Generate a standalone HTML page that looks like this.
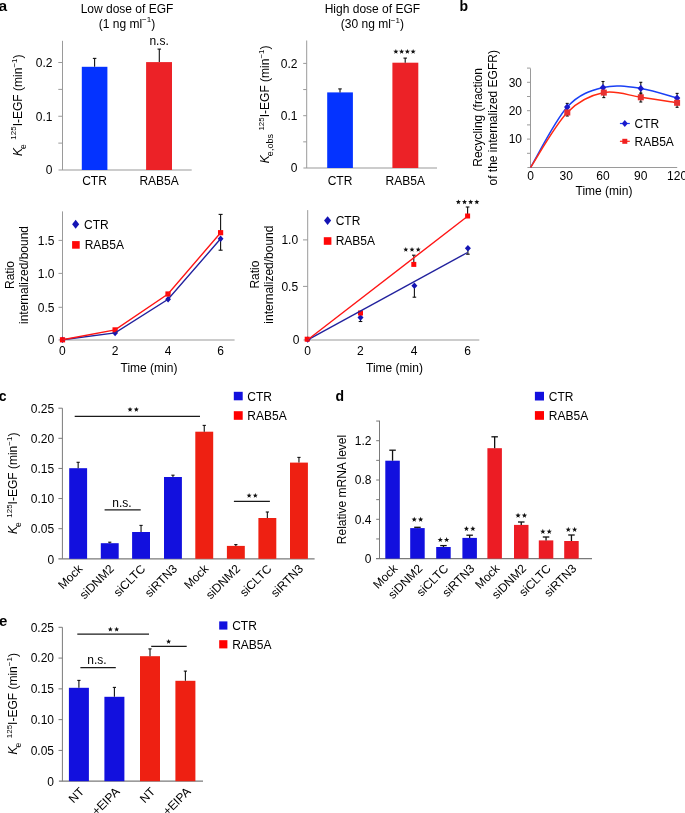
<!DOCTYPE html>
<html><head><meta charset="utf-8"><title>Figure</title>
<style>html,body{margin:0;padding:0;background:#fff;width:685px;height:813px;overflow:hidden}
svg{display:block;will-change:transform} text{font-family:"Liberation Sans", sans-serif}</style></head>
<body><svg width="685" height="813" viewBox="0 0 685 813" font-family="Liberation Sans, sans-serif" fill="#000">
<text x="-1.5" y="10.8" text-anchor="start" font-size="15.5" font-weight="bold">a</text>
<text x="459.5" y="10.8" text-anchor="start" font-size="14" font-weight="bold">b</text>
<text x="-1.2" y="400.8" text-anchor="start" font-size="14" font-weight="bold">c</text>
<text x="335.5" y="400.5" text-anchor="start" font-size="14" font-weight="bold">d</text>
<text x="-1" y="626.4" text-anchor="start" font-size="15" font-weight="bold">e</text>
<line x1="62.5" y1="40.8" x2="62.5" y2="170" stroke="#9a9a9a" stroke-width="1"/>
<line x1="58.5" y1="170" x2="191.7" y2="170" stroke="#9a9a9a" stroke-width="1.2"/>
<text x="52.5" y="174.3" text-anchor="end" font-size="12">0</text>
<line x1="58.3" y1="143.12" x2="62.5" y2="143.12" stroke="#9a9a9a" stroke-width="1"/>
<line x1="58.3" y1="116.25" x2="62.5" y2="116.25" stroke="#9a9a9a" stroke-width="1"/>
<text x="52.5" y="120.55" text-anchor="end" font-size="12">0.1</text>
<line x1="58.3" y1="89.38" x2="62.5" y2="89.38" stroke="#9a9a9a" stroke-width="1"/>
<line x1="58.3" y1="62.5" x2="62.5" y2="62.5" stroke="#9a9a9a" stroke-width="1"/>
<text x="52.5" y="66.8" text-anchor="end" font-size="12">0.2</text>
<rect x="81.8" y="66.8" width="25.6" height="103.2" fill="#0433ff"/>
<line x1="94.6" y1="66.8" x2="94.6" y2="58.4" stroke="#111" stroke-width="1.1"/>
<line x1="92.85" y1="58.4" x2="96.35" y2="58.4" stroke="#111" stroke-width="1.1"/>
<rect x="146.1" y="62.1" width="25.9" height="107.9" fill="#ec2227"/>
<line x1="159.3" y1="62.1" x2="159.3" y2="49.1" stroke="#111" stroke-width="1.1"/>
<line x1="157.55" y1="49.1" x2="161.05" y2="49.1" stroke="#111" stroke-width="1.1"/>
<text x="159.1" y="44.8" text-anchor="middle" font-size="12">n.s.</text>
<text x="94.5" y="185" text-anchor="middle" font-size="12">CTR</text>
<text x="159.1" y="185" text-anchor="middle" font-size="12">RAB5A</text>
<text x="127" y="12.6" text-anchor="middle" font-size="12">Low dose of EGF</text>
<text x="127" y="27.6" text-anchor="middle" font-size="12">(1 ng ml<tspan dy="-5.2" font-size="8">−1</tspan><tspan dy="5.2">)</tspan></text>
<text transform="translate(21.6,105.2) rotate(-90)" text-anchor="middle" font-size="12"><tspan font-style="italic">K</tspan><tspan dy="4.3" font-size="8.5" dx="-1">e</tspan><tspan dy="-9.7" font-size="8" dx="4.5">125</tspan><tspan dy="5.4">I-EGF (min</tspan><tspan dy="-5" font-size="8">−1</tspan><tspan dy="5">)</tspan></text>
<line x1="306.7" y1="40.5" x2="306.7" y2="168" stroke="#9a9a9a" stroke-width="1"/>
<line x1="303.4" y1="168" x2="437" y2="168" stroke="#9a9a9a" stroke-width="1.2"/>
<text x="297.5" y="172.3" text-anchor="end" font-size="12">0</text>
<line x1="303.2" y1="141.85" x2="306.7" y2="141.85" stroke="#9a9a9a" stroke-width="1"/>
<line x1="303.2" y1="115.7" x2="306.7" y2="115.7" stroke="#9a9a9a" stroke-width="1"/>
<text x="297.5" y="120" text-anchor="end" font-size="12">0.1</text>
<line x1="303.2" y1="89.55" x2="306.7" y2="89.55" stroke="#9a9a9a" stroke-width="1"/>
<line x1="303.2" y1="63.4" x2="306.7" y2="63.4" stroke="#9a9a9a" stroke-width="1"/>
<text x="297.5" y="67.7" text-anchor="end" font-size="12">0.2</text>
<rect x="327.2" y="92.4" width="25.7" height="75.6" fill="#0433ff"/>
<line x1="340" y1="92.4" x2="340" y2="88.9" stroke="#111" stroke-width="1.1"/>
<line x1="338.25" y1="88.9" x2="341.75" y2="88.9" stroke="#111" stroke-width="1.1"/>
<rect x="392.4" y="62.7" width="25.9" height="105.3" fill="#ec2227"/>
<line x1="405.2" y1="62.7" x2="405.2" y2="58.1" stroke="#111" stroke-width="1.1"/>
<line x1="403.45" y1="58.1" x2="406.95" y2="58.1" stroke="#111" stroke-width="1.1"/>
<polygon points="395.88,48.9 396.55,50.72 398.49,50.8 396.97,52.01 397.49,53.87 395.88,52.8 394.26,53.87 394.78,52.01 393.26,50.8 395.2,50.72" fill="#111"/>
<polygon points="401.62,48.9 402.3,50.72 404.24,50.8 402.72,52.01 403.24,53.87 401.62,52.8 400.01,53.87 400.53,52.01 399.01,50.8 400.95,50.72" fill="#111"/>
<polygon points="407.38,48.9 408.05,50.72 409.99,50.8 408.47,52.01 408.99,53.87 407.38,52.8 405.76,53.87 406.28,52.01 404.76,50.8 406.7,50.72" fill="#111"/>
<polygon points="413.12,48.9 413.8,50.72 415.74,50.8 414.22,52.01 414.74,53.87 413.12,52.8 411.51,53.87 412.03,52.01 410.51,50.8 412.45,50.72" fill="#111"/>
<text x="340" y="184.6" text-anchor="middle" font-size="12">CTR</text>
<text x="405.3" y="184.6" text-anchor="middle" font-size="12">RAB5A</text>
<text x="372.4" y="12.9" text-anchor="middle" font-size="12">High dose of EGF</text>
<text x="372.4" y="28" text-anchor="middle" font-size="12">(30 ng ml<tspan dy="-5.2" font-size="8">−1</tspan><tspan dy="5.2">)</tspan></text>
<text transform="translate(269.3,104.3) rotate(-90)" text-anchor="middle" font-size="12"><tspan font-style="italic">K</tspan><tspan dy="3.8" font-size="9" dx="-1">e,obs</tspan><tspan dy="-9.2" font-size="8" dx="3.5">125</tspan><tspan dy="5.4">I-EGF (min</tspan><tspan dy="-5" font-size="8">−1</tspan><tspan dy="5">)</tspan></text>
<line x1="530.5" y1="68.4" x2="530.5" y2="167.5" stroke="#9a9a9a" stroke-width="1"/>
<line x1="527.4" y1="167.5" x2="677.2" y2="167.5" stroke="#9a9a9a" stroke-width="1.2"/>
<line x1="527" y1="153.3" x2="530.5" y2="153.3" stroke="#9a9a9a" stroke-width="1"/>
<line x1="527" y1="139.1" x2="530.5" y2="139.1" stroke="#9a9a9a" stroke-width="1"/>
<text x="522" y="143.4" text-anchor="end" font-size="12">10</text>
<line x1="527" y1="124.9" x2="530.5" y2="124.9" stroke="#9a9a9a" stroke-width="1"/>
<line x1="527" y1="110.7" x2="530.5" y2="110.7" stroke="#9a9a9a" stroke-width="1"/>
<text x="522" y="115" text-anchor="end" font-size="12">20</text>
<line x1="527" y1="96.5" x2="530.5" y2="96.5" stroke="#9a9a9a" stroke-width="1"/>
<line x1="527" y1="82.3" x2="530.5" y2="82.3" stroke="#9a9a9a" stroke-width="1"/>
<text x="522" y="86.6" text-anchor="end" font-size="12">30</text>
<line x1="527" y1="68.1" x2="530.5" y2="68.1" stroke="#9a9a9a" stroke-width="1"/>
<text x="530.5" y="180.2" text-anchor="middle" font-size="12">0</text>
<text x="566.3" y="180.2" text-anchor="middle" font-size="12">30</text>
<text x="603" y="180.2" text-anchor="middle" font-size="12">60</text>
<text x="640.8" y="180.2" text-anchor="middle" font-size="12">90</text>
<text x="677.1" y="180.2" text-anchor="middle" font-size="12">120</text>
<text x="604" y="194.5" text-anchor="middle" font-size="12">Time (min)</text>
<text transform="translate(482.1,117.4) rotate(-90)" text-anchor="middle" font-size="12">Recycling (fraction</text>
<text transform="translate(496.8,117.8) rotate(-90)" text-anchor="middle" font-size="12">of the internalized EGFR)</text>
<path d="M530.5 167.5 C536.62 157.43 555.12 120.42 567.2 107.1 C579.28 93.78 590.73 90.72 603 87.6 C615.27 84.48 628.45 86.65 640.8 88.4 C653.15 90.15 671.05 96.48 677.1 98.1" fill="none" stroke="#1a40f5" stroke-width="1.5"/>
<path d="M530.5 167.5 C536.63 158.33 555.08 124.98 567.3 112.5 C579.52 100.02 591.55 95.13 603.8 92.6 C616.05 90.07 628.58 95.60 640.8 97.3 C653.02 99.00 671.05 101.88 677.1 102.8" fill="none" stroke="#ff2a12" stroke-width="1.5"/>
<line x1="567.2" y1="103.4" x2="567.2" y2="110.7" stroke="#111" stroke-width="1.1"/>
<line x1="565.7" y1="103.4" x2="568.7" y2="103.4" stroke="#111" stroke-width="1.1"/>
<line x1="565.7" y1="110.7" x2="568.7" y2="110.7" stroke="#111" stroke-width="1.1"/>
<line x1="603" y1="81.5" x2="603" y2="94" stroke="#111" stroke-width="1.1"/>
<line x1="601.5" y1="81.5" x2="604.5" y2="81.5" stroke="#111" stroke-width="1.1"/>
<line x1="601.5" y1="94" x2="604.5" y2="94" stroke="#111" stroke-width="1.1"/>
<line x1="640.8" y1="82.3" x2="640.8" y2="94" stroke="#111" stroke-width="1.1"/>
<line x1="639.3" y1="82.3" x2="642.3" y2="82.3" stroke="#111" stroke-width="1.1"/>
<line x1="639.3" y1="94" x2="642.3" y2="94" stroke="#111" stroke-width="1.1"/>
<line x1="677.1" y1="93.4" x2="677.1" y2="102" stroke="#111" stroke-width="1.1"/>
<line x1="675.6" y1="93.4" x2="678.6" y2="93.4" stroke="#111" stroke-width="1.1"/>
<line x1="675.6" y1="102" x2="678.6" y2="102" stroke="#111" stroke-width="1.1"/>
<line x1="567.3" y1="108" x2="567.3" y2="116" stroke="#111" stroke-width="1.1"/>
<line x1="565.8" y1="108" x2="568.8" y2="108" stroke="#111" stroke-width="1.1"/>
<line x1="565.8" y1="116" x2="568.8" y2="116" stroke="#111" stroke-width="1.1"/>
<line x1="603.8" y1="88" x2="603.8" y2="97.6" stroke="#111" stroke-width="1.1"/>
<line x1="602.3" y1="88" x2="605.3" y2="88" stroke="#111" stroke-width="1.1"/>
<line x1="602.3" y1="97.6" x2="605.3" y2="97.6" stroke="#111" stroke-width="1.1"/>
<line x1="640.8" y1="93" x2="640.8" y2="102" stroke="#111" stroke-width="1.1"/>
<line x1="639.3" y1="93" x2="642.3" y2="93" stroke="#111" stroke-width="1.1"/>
<line x1="639.3" y1="102" x2="642.3" y2="102" stroke="#111" stroke-width="1.1"/>
<line x1="677.1" y1="98" x2="677.1" y2="107.3" stroke="#111" stroke-width="1.1"/>
<line x1="675.6" y1="98" x2="678.6" y2="98" stroke="#111" stroke-width="1.1"/>
<line x1="675.6" y1="107.3" x2="678.6" y2="107.3" stroke="#111" stroke-width="1.1"/>
<path d="M567.2 103.5L570.4 107.1L567.2 110.7L564 107.1Z" fill="#1a1acc"/>
<path d="M603 84L606.2 87.6L603 91.2L599.8 87.6Z" fill="#1a1acc"/>
<path d="M640.8 84.8L644 88.4L640.8 92L637.6 88.4Z" fill="#1a1acc"/>
<path d="M677.1 94.5L680.3 98.1L677.1 101.7L673.9 98.1Z" fill="#1a1acc"/>
<rect x="564.3" y="109.5" width="6" height="6" fill="#e83030"/>
<rect x="600.8" y="89.6" width="6" height="6" fill="#e83030"/>
<rect x="637.8" y="94.3" width="6" height="6" fill="#e83030"/>
<rect x="674.1" y="99.8" width="6" height="6" fill="#e83030"/>
<line x1="619.9" y1="123.5" x2="629.8" y2="123.5" stroke="#1a40f5" stroke-width="1.2"/>
<path d="M624.8 120L627.8 123.5L624.8 127L621.8 123.5Z" fill="#1a1acc"/>
<text x="634.5" y="128.1" text-anchor="start" font-size="12">CTR</text>
<line x1="619.9" y1="141.3" x2="629.8" y2="141.3" stroke="#ff2a12" stroke-width="1.2"/>
<rect x="622.3" y="138.8" width="5" height="5" fill="#f02020"/>
<text x="634.5" y="145.8" text-anchor="start" font-size="12">RAB5A</text>
<line x1="62.5" y1="211.4" x2="62.5" y2="340" stroke="#9a9a9a" stroke-width="1"/>
<line x1="58.5" y1="340" x2="234.6" y2="340" stroke="#9a9a9a" stroke-width="1.2"/>
<text x="54.5" y="343.9" text-anchor="end" font-size="12">0</text>
<line x1="58.5" y1="307.3" x2="62.5" y2="307.3" stroke="#9a9a9a" stroke-width="1"/>
<text x="54.5" y="311.6" text-anchor="end" font-size="12">0.5</text>
<line x1="58.5" y1="273.4" x2="62.5" y2="273.4" stroke="#9a9a9a" stroke-width="1"/>
<text x="54.5" y="277.7" text-anchor="end" font-size="12">1.0</text>
<line x1="58.5" y1="240.4" x2="62.5" y2="240.4" stroke="#9a9a9a" stroke-width="1"/>
<text x="54.5" y="244.7" text-anchor="end" font-size="12">1.5</text>
<text x="62.3" y="355.3" text-anchor="middle" font-size="12">0</text>
<text x="115.1" y="355.3" text-anchor="middle" font-size="12">2</text>
<text x="168" y="355.3" text-anchor="middle" font-size="12">4</text>
<text x="220.6" y="355.3" text-anchor="middle" font-size="12">6</text>
<text x="149" y="371.5" text-anchor="middle" font-size="12">Time (min)</text>
<text transform="translate(14.3,275) rotate(-90)" text-anchor="middle" font-size="12">Ratio</text>
<text transform="translate(28,275) rotate(-90)" text-anchor="middle" font-size="12">internalized/bound</text>
<line x1="220.6" y1="232.7" x2="220.6" y2="214.4" stroke="#111" stroke-width="1.1"/>
<line x1="218.6" y1="214.4" x2="222.6" y2="214.4" stroke="#111" stroke-width="1.1"/>
<line x1="220.6" y1="238.8" x2="220.6" y2="250.2" stroke="#111" stroke-width="1.1"/>
<line x1="218.6" y1="250.2" x2="222.6" y2="250.2" stroke="#111" stroke-width="1.1"/>
<path d="M62.5 336.5L65.4 339.8L62.5 343.1L59.6 339.8Z" fill="#1414b4"/>
<path d="M115.1 329.6L118 332.9L115.1 336.2L112.2 332.9Z" fill="#1414b4"/>
<path d="M168.1 296L171 299.3L168.1 302.6L165.2 299.3Z" fill="#1414b4"/>
<path d="M220.6 235.5L223.5 238.8L220.6 242.1L217.7 238.8Z" fill="#1414b4"/>
<rect x="59.9" y="337.2" width="5.2" height="5.2" fill="#ff0808"/>
<rect x="112.5" y="327.3" width="5.2" height="5.2" fill="#ff0808"/>
<rect x="165.4" y="291.4" width="5.2" height="5.2" fill="#ff0808"/>
<rect x="218" y="230.1" width="5.2" height="5.2" fill="#ff0808"/>
<polyline points="62.5,339.8 115.1,332.9 168.1,299.3 220.6,238.8" fill="none" stroke="#22229e" stroke-width="1.4"/>
<polyline points="62.5,339.8 115.1,329.9 168,294 220.6,232.7" fill="none" stroke="#ff1414" stroke-width="1.4"/>
<path d="M75.65 219.75L79.2 224.25L75.65 228.75L72.1 224.25Z" fill="#1414b4"/>
<text x="84.1" y="228.6" text-anchor="start" font-size="12">CTR</text>
<rect x="72.1" y="241.1" width="7.6" height="7.6" fill="#ff0808"/>
<text x="84.7" y="249.3" text-anchor="start" font-size="12">RAB5A</text>
<line x1="307.7" y1="210.1" x2="307.7" y2="340" stroke="#9a9a9a" stroke-width="1"/>
<line x1="303.5" y1="340" x2="479.3" y2="340" stroke="#9a9a9a" stroke-width="1.2"/>
<text x="299.5" y="343.6" text-anchor="end" font-size="12">0</text>
<line x1="303" y1="286.4" x2="307.7" y2="286.4" stroke="#9a9a9a" stroke-width="1"/>
<text x="298.1" y="290.7" text-anchor="end" font-size="12">0.5</text>
<line x1="303" y1="239.9" x2="307.7" y2="239.9" stroke="#9a9a9a" stroke-width="1"/>
<text x="298.1" y="244.2" text-anchor="end" font-size="12">1.0</text>
<text x="307.5" y="355.3" text-anchor="middle" font-size="12">0</text>
<text x="360.4" y="355.3" text-anchor="middle" font-size="12">2</text>
<text x="414" y="355.3" text-anchor="middle" font-size="12">4</text>
<text x="467.7" y="355.3" text-anchor="middle" font-size="12">6</text>
<text x="394.5" y="371.5" text-anchor="middle" font-size="12">Time (min)</text>
<text transform="translate(259,274.6) rotate(-90)" text-anchor="middle" font-size="12">Ratio</text>
<text transform="translate(272.8,274.6) rotate(-90)" text-anchor="middle" font-size="12">internalized/bound</text>
<line x1="360.5" y1="317.5" x2="360.5" y2="321.5" stroke="#111" stroke-width="1.1"/>
<line x1="358.7" y1="321.5" x2="362.3" y2="321.5" stroke="#111" stroke-width="1.1"/>
<line x1="414.4" y1="285.8" x2="414.4" y2="297.2" stroke="#111" stroke-width="1.1"/>
<line x1="412.6" y1="297.2" x2="416.2" y2="297.2" stroke="#111" stroke-width="1.1"/>
<line x1="467.9" y1="248.3" x2="467.9" y2="254.2" stroke="#111" stroke-width="1.1"/>
<line x1="466.1" y1="254.2" x2="469.7" y2="254.2" stroke="#111" stroke-width="1.1"/>
<line x1="413.8" y1="264.4" x2="413.8" y2="255.2" stroke="#111" stroke-width="1.1"/>
<line x1="412" y1="255.2" x2="415.6" y2="255.2" stroke="#111" stroke-width="1.1"/>
<line x1="467.6" y1="216" x2="467.6" y2="207" stroke="#111" stroke-width="1.1"/>
<line x1="465.8" y1="207" x2="469.4" y2="207" stroke="#111" stroke-width="1.1"/>
<path d="M307.7 336.4L310.7 339.6L307.7 342.8L304.7 339.6Z" fill="#1414b4"/>
<path d="M360.5 314.3L363.5 317.5L360.5 320.7L357.5 317.5Z" fill="#1414b4"/>
<path d="M414.4 282.6L417.4 285.8L414.4 289L411.4 285.8Z" fill="#1414b4"/>
<path d="M467.9 245.1L470.9 248.3L467.9 251.5L464.9 248.3Z" fill="#1414b4"/>
<rect x="304.7" y="336.7" width="5" height="5" fill="#ff0808"/>
<rect x="358" y="310.5" width="5" height="5" fill="#ff0808"/>
<rect x="411.3" y="261.9" width="5" height="5" fill="#ff0808"/>
<rect x="465.1" y="213.5" width="5" height="5" fill="#ff0808"/>
<line x1="307.7" y1="339.8" x2="467.5" y2="252.5" stroke="#22229e" stroke-width="1.4"/>
<line x1="307.7" y1="339.8" x2="466" y2="217.5" stroke="#ff1414" stroke-width="1.4"/>
<polygon points="405.8,247.05 406.48,248.72 408.27,248.85 406.89,250.01 407.33,251.75 405.8,250.8 404.27,251.75 404.71,250.01 403.33,248.85 405.12,248.72" fill="#111"/>
<polygon points="412,247.05 412.68,248.72 414.47,248.85 413.09,250.01 413.53,251.75 412,250.8 410.47,251.75 410.91,250.01 409.53,248.85 411.32,248.72" fill="#111"/>
<polygon points="418.2,247.05 418.88,248.72 420.67,248.85 419.29,250.01 419.73,251.75 418.2,250.8 416.67,251.75 417.11,250.01 415.73,248.85 417.52,248.72" fill="#111"/>
<polygon points="458.38,199.45 459.05,201.12 460.85,201.25 459.47,202.41 459.9,204.15 458.38,203.2 456.85,204.15 457.28,202.41 455.9,201.25 457.7,201.12" fill="#111"/>
<polygon points="464.52,199.45 465.2,201.12 467,201.25 465.62,202.41 466.05,204.15 464.52,203.2 463,204.15 463.43,202.41 462.05,201.25 463.85,201.12" fill="#111"/>
<polygon points="470.68,199.45 471.35,201.12 473.15,201.25 471.77,202.41 472.2,204.15 470.68,203.2 469.15,204.15 469.58,202.41 468.2,201.25 470,201.12" fill="#111"/>
<polygon points="476.82,199.45 477.5,201.12 479.3,201.25 477.92,202.41 478.35,204.15 476.82,203.2 475.3,204.15 475.73,202.41 474.35,201.25 476.15,201.12" fill="#111"/>
<path d="M327.6 216.2L331.15 220.6L327.6 225L324.05 220.6Z" fill="#1414b4"/>
<text x="335.7" y="225" text-anchor="start" font-size="12">CTR</text>
<rect x="323.8" y="237.2" width="7.6" height="7.6" fill="#ff0808"/>
<text x="335.7" y="245.2" text-anchor="start" font-size="12">RAB5A</text>
<line x1="62.4" y1="408.2" x2="62.4" y2="558.8" stroke="#7a7a7a" stroke-width="1"/>
<line x1="58.4" y1="558.8" x2="314.6" y2="558.8" stroke="#7a7a7a" stroke-width="1.2"/>
<text x="54.2" y="563.6" text-anchor="end" font-size="12">0</text>
<line x1="58.4" y1="528.68" x2="62.4" y2="528.68" stroke="#7a7a7a" stroke-width="1"/>
<text x="54.2" y="533.48" text-anchor="end" font-size="12">0.05</text>
<line x1="58.4" y1="498.56" x2="62.4" y2="498.56" stroke="#7a7a7a" stroke-width="1"/>
<text x="54.2" y="503.36" text-anchor="end" font-size="12">0.10</text>
<line x1="58.4" y1="468.44" x2="62.4" y2="468.44" stroke="#7a7a7a" stroke-width="1"/>
<text x="54.2" y="473.24" text-anchor="end" font-size="12">0.15</text>
<line x1="58.4" y1="438.32" x2="62.4" y2="438.32" stroke="#7a7a7a" stroke-width="1"/>
<text x="54.2" y="443.12" text-anchor="end" font-size="12">0.20</text>
<line x1="58.4" y1="408.2" x2="62.4" y2="408.2" stroke="#7a7a7a" stroke-width="1"/>
<text x="54.2" y="413" text-anchor="end" font-size="12">0.25</text>
<rect x="69.2" y="468.2" width="17.9" height="90.6" fill="#1210de"/>
<line x1="78.15" y1="468.2" x2="78.15" y2="462.3" stroke="#111" stroke-width="1.1"/>
<line x1="76.55" y1="462.3" x2="79.75" y2="462.3" stroke="#111" stroke-width="1.1"/>
<text transform="translate(83.15,569.5) rotate(-45)" text-anchor="end" font-size="12">Mock</text>
<rect x="100.8" y="543.2" width="17.9" height="15.6" fill="#1210de"/>
<line x1="109.75" y1="543.2" x2="109.75" y2="542.2" stroke="#111" stroke-width="1.1"/>
<line x1="108.15" y1="542.2" x2="111.35" y2="542.2" stroke="#111" stroke-width="1.1"/>
<text transform="translate(114.75,569.5) rotate(-45)" text-anchor="end" font-size="12">siDNM2</text>
<rect x="132.1" y="532" width="17.9" height="26.8" fill="#1210de"/>
<line x1="141.05" y1="532" x2="141.05" y2="525.4" stroke="#111" stroke-width="1.1"/>
<line x1="139.45" y1="525.4" x2="142.65" y2="525.4" stroke="#111" stroke-width="1.1"/>
<text transform="translate(146.05,569.5) rotate(-45)" text-anchor="end" font-size="12">siCLTC</text>
<rect x="164" y="477" width="17.9" height="81.8" fill="#1210de"/>
<line x1="172.95" y1="477" x2="172.95" y2="475.2" stroke="#111" stroke-width="1.1"/>
<line x1="171.35" y1="475.2" x2="174.55" y2="475.2" stroke="#111" stroke-width="1.1"/>
<text transform="translate(177.95,569.5) rotate(-45)" text-anchor="end" font-size="12">siRTN3</text>
<rect x="195.3" y="431.7" width="17.9" height="127.1" fill="#ee2012"/>
<line x1="204.25" y1="431.7" x2="204.25" y2="425.4" stroke="#111" stroke-width="1.1"/>
<line x1="202.65" y1="425.4" x2="205.85" y2="425.4" stroke="#111" stroke-width="1.1"/>
<text transform="translate(209.25,569.5) rotate(-45)" text-anchor="end" font-size="12">Mock</text>
<rect x="226.9" y="545.9" width="17.9" height="12.9" fill="#ee2012"/>
<line x1="235.85" y1="545.9" x2="235.85" y2="544.6" stroke="#111" stroke-width="1.1"/>
<line x1="234.25" y1="544.6" x2="237.45" y2="544.6" stroke="#111" stroke-width="1.1"/>
<text transform="translate(240.85,569.5) rotate(-45)" text-anchor="end" font-size="12">siDNM2</text>
<rect x="258.4" y="518" width="17.9" height="40.8" fill="#ee2012"/>
<line x1="267.35" y1="518" x2="267.35" y2="512" stroke="#111" stroke-width="1.1"/>
<line x1="265.75" y1="512" x2="268.95" y2="512" stroke="#111" stroke-width="1.1"/>
<text transform="translate(272.35,569.5) rotate(-45)" text-anchor="end" font-size="12">siCLTC</text>
<rect x="290" y="462.6" width="17.9" height="96.2" fill="#ee2012"/>
<line x1="298.95" y1="462.6" x2="298.95" y2="457.4" stroke="#111" stroke-width="1.1"/>
<line x1="297.35" y1="457.4" x2="300.55" y2="457.4" stroke="#111" stroke-width="1.1"/>
<text transform="translate(303.95,569.5) rotate(-45)" text-anchor="end" font-size="12">siRTN3</text>
<line x1="74.7" y1="416.4" x2="200" y2="416.4" stroke="#1a1a1a" stroke-width="1.3"/>
<polygon points="130.05,406.95 130.73,408.62 132.52,408.75 131.14,409.91 131.58,411.65 130.05,410.7 128.52,411.65 128.96,409.91 127.58,408.75 129.37,408.62" fill="#111"/>
<polygon points="136.35,406.95 137.03,408.62 138.82,408.75 137.44,409.91 137.88,411.65 136.35,410.7 134.82,411.65 135.26,409.91 133.88,408.75 135.67,408.62" fill="#111"/>
<line x1="104.6" y1="509.8" x2="140.7" y2="509.8" stroke="#1a1a1a" stroke-width="1.3"/>
<text x="122" y="507.4" text-anchor="middle" font-size="12">n.s.</text>
<line x1="233.9" y1="501.4" x2="269.9" y2="501.4" stroke="#1a1a1a" stroke-width="1.2"/>
<polygon points="249.1,493.05 249.78,494.72 251.57,494.85 250.19,496.01 250.63,497.75 249.1,496.8 247.57,497.75 248.01,496.01 246.63,494.85 248.42,494.72" fill="#111"/>
<polygon points="255.3,493.05 255.98,494.72 257.77,494.85 256.39,496.01 256.83,497.75 255.3,496.8 253.77,497.75 254.21,496.01 252.83,494.85 254.62,494.72" fill="#111"/>
<text transform="translate(17,483.3) rotate(-90)" text-anchor="middle" font-size="12"><tspan font-style="italic">K</tspan><tspan dy="4.3" font-size="8.5" dx="-1">e</tspan><tspan dy="-9.7" font-size="8" dx="4.5">125</tspan><tspan dy="5.4">I-EGF (min</tspan><tspan dy="-5" font-size="8">−1</tspan><tspan dy="5">)</tspan></text>
<rect x="233.8" y="391.8" width="8.9" height="8.5" fill="#1210de"/>
<text x="247.3" y="400.5" text-anchor="start" font-size="12">CTR</text>
<rect x="233.8" y="411.2" width="8.9" height="8.6" fill="#ff0000"/>
<text x="247.3" y="420.1" text-anchor="start" font-size="12">RAB5A</text>
<line x1="379.5" y1="420.7" x2="379.5" y2="558.6" stroke="#7a7a7a" stroke-width="1"/>
<line x1="376" y1="558.6" x2="592" y2="558.6" stroke="#7a7a7a" stroke-width="1.2"/>
<text x="371.5" y="562.9" text-anchor="end" font-size="12">0</text>
<line x1="376.2" y1="538.95" x2="379.5" y2="538.95" stroke="#7a7a7a" stroke-width="1"/>
<line x1="376.2" y1="519.3" x2="379.5" y2="519.3" stroke="#7a7a7a" stroke-width="1"/>
<text x="371.5" y="523.6" text-anchor="end" font-size="12">0.4</text>
<line x1="376.2" y1="499.65" x2="379.5" y2="499.65" stroke="#7a7a7a" stroke-width="1"/>
<line x1="376.2" y1="480" x2="379.5" y2="480" stroke="#7a7a7a" stroke-width="1"/>
<text x="371.5" y="484.3" text-anchor="end" font-size="12">0.8</text>
<line x1="376.2" y1="460.35" x2="379.5" y2="460.35" stroke="#7a7a7a" stroke-width="1"/>
<line x1="376.2" y1="440.7" x2="379.5" y2="440.7" stroke="#7a7a7a" stroke-width="1"/>
<text x="371.5" y="445" text-anchor="end" font-size="12">1.2</text>
<line x1="376.2" y1="421.05" x2="379.5" y2="421.05" stroke="#7a7a7a" stroke-width="1"/>
<rect x="385.3" y="460.7" width="14.5" height="97.9" fill="#1210de"/>
<line x1="392.55" y1="460.7" x2="392.55" y2="450.2" stroke="#111" stroke-width="1.3"/>
<line x1="389.3" y1="450.2" x2="395.8" y2="450.2" stroke="#111" stroke-width="1.3"/>
<text transform="translate(398.25,569.3) rotate(-45)" text-anchor="end" font-size="12">Mock</text>
<rect x="410.2" y="528.1" width="14.5" height="30.5" fill="#1210de"/>
<line x1="417.45" y1="528.1" x2="417.45" y2="527.3" stroke="#111" stroke-width="1.3"/>
<line x1="414.2" y1="527.3" x2="420.7" y2="527.3" stroke="#111" stroke-width="1.3"/>
<polygon points="414.25,516.75 414.93,518.62 416.91,518.68 415.34,519.91 415.9,521.82 414.25,520.7 412.6,521.82 413.16,519.91 411.59,518.68 413.57,518.62" fill="#111"/>
<polygon points="420.65,516.75 421.33,518.62 423.31,518.68 421.74,519.91 422.3,521.82 420.65,520.7 419,521.82 419.56,519.91 417.99,518.68 419.97,518.62" fill="#111"/>
<text transform="translate(423.15,569.3) rotate(-45)" text-anchor="end" font-size="12">siDNM2</text>
<rect x="436.2" y="547" width="14.5" height="11.6" fill="#1210de"/>
<line x1="443.45" y1="547" x2="443.45" y2="545.6" stroke="#111" stroke-width="1.3"/>
<line x1="440.2" y1="545.6" x2="446.7" y2="545.6" stroke="#111" stroke-width="1.3"/>
<polygon points="440.25,537.05 440.93,538.92 442.91,538.98 441.34,540.21 441.9,542.12 440.25,541 438.6,542.12 439.16,540.21 437.59,538.98 439.57,538.92" fill="#111"/>
<polygon points="446.65,537.05 447.33,538.92 449.31,538.98 447.74,540.21 448.3,542.12 446.65,541 445,542.12 445.56,540.21 443.99,538.98 445.97,538.92" fill="#111"/>
<text transform="translate(449.15,569.3) rotate(-45)" text-anchor="end" font-size="12">siCLTC</text>
<rect x="462.4" y="537.9" width="14.5" height="20.7" fill="#1210de"/>
<line x1="469.65" y1="537.9" x2="469.65" y2="535.2" stroke="#111" stroke-width="1.3"/>
<line x1="466.4" y1="535.2" x2="472.9" y2="535.2" stroke="#111" stroke-width="1.3"/>
<polygon points="466.45,525.95 467.13,527.82 469.11,527.88 467.54,529.11 468.1,531.02 466.45,529.9 464.8,531.02 465.36,529.11 463.79,527.88 465.77,527.82" fill="#111"/>
<polygon points="472.85,525.95 473.53,527.82 475.51,527.88 473.94,529.11 474.5,531.02 472.85,529.9 471.2,531.02 471.76,529.11 470.19,527.88 472.17,527.82" fill="#111"/>
<text transform="translate(475.35,569.3) rotate(-45)" text-anchor="end" font-size="12">siRTN3</text>
<rect x="487.4" y="448.2" width="14.5" height="110.4" fill="#ec1c24"/>
<line x1="494.65" y1="448.2" x2="494.65" y2="436.8" stroke="#111" stroke-width="1.3"/>
<line x1="491.4" y1="436.8" x2="497.9" y2="436.8" stroke="#111" stroke-width="1.3"/>
<text transform="translate(500.35,569.3) rotate(-45)" text-anchor="end" font-size="12">Mock</text>
<rect x="514" y="524.9" width="14.5" height="33.7" fill="#ec1c24"/>
<line x1="521.25" y1="524.9" x2="521.25" y2="522" stroke="#111" stroke-width="1.3"/>
<line x1="518" y1="522" x2="524.5" y2="522" stroke="#111" stroke-width="1.3"/>
<polygon points="518.05,512.75 518.73,514.62 520.71,514.68 519.14,515.91 519.7,517.82 518.05,516.7 516.4,517.82 516.96,515.91 515.39,514.68 517.37,514.62" fill="#111"/>
<polygon points="524.45,512.75 525.13,514.62 527.11,514.68 525.54,515.91 526.1,517.82 524.45,516.7 522.8,517.82 523.36,515.91 521.79,514.68 523.77,514.62" fill="#111"/>
<text transform="translate(526.95,569.3) rotate(-45)" text-anchor="end" font-size="12">siDNM2</text>
<rect x="538.8" y="540.4" width="14.5" height="18.2" fill="#ec1c24"/>
<line x1="546.05" y1="540.4" x2="546.05" y2="537" stroke="#111" stroke-width="1.3"/>
<line x1="542.8" y1="537" x2="549.3" y2="537" stroke="#111" stroke-width="1.3"/>
<polygon points="542.85,528.85 543.53,530.72 545.51,530.78 543.94,532.01 544.5,533.92 542.85,532.8 541.2,533.92 541.76,532.01 540.19,530.78 542.17,530.72" fill="#111"/>
<polygon points="549.25,528.85 549.93,530.72 551.91,530.78 550.34,532.01 550.9,533.92 549.25,532.8 547.6,533.92 548.16,532.01 546.59,530.78 548.57,530.72" fill="#111"/>
<text transform="translate(551.75,569.3) rotate(-45)" text-anchor="end" font-size="12">siCLTC</text>
<rect x="564.2" y="541" width="14.5" height="17.6" fill="#ec1c24"/>
<line x1="571.45" y1="541" x2="571.45" y2="535" stroke="#111" stroke-width="1.3"/>
<line x1="568.2" y1="535" x2="574.7" y2="535" stroke="#111" stroke-width="1.3"/>
<polygon points="568.25,526.85 568.93,528.72 570.91,528.78 569.34,530.01 569.9,531.92 568.25,530.8 566.6,531.92 567.16,530.01 565.59,528.78 567.57,528.72" fill="#111"/>
<polygon points="574.65,526.85 575.33,528.72 577.31,528.78 575.74,530.01 576.3,531.92 574.65,530.8 573,531.92 573.56,530.01 571.99,528.78 573.97,528.72" fill="#111"/>
<text transform="translate(577.15,569.3) rotate(-45)" text-anchor="end" font-size="12">siRTN3</text>
<text transform="translate(345.9,489.5) rotate(-90)" text-anchor="middle" font-size="12">Relative mRNA level</text>
<rect x="534.9" y="391.8" width="9.1" height="8.7" fill="#1210de"/>
<text x="548.8" y="400.5" text-anchor="start" font-size="12">CTR</text>
<rect x="534.9" y="411.1" width="9.1" height="8.7" fill="#ff0000"/>
<text x="548.8" y="420.1" text-anchor="start" font-size="12">RAB5A</text>
<line x1="62.4" y1="627.3" x2="62.4" y2="781.2" stroke="#7a7a7a" stroke-width="1"/>
<line x1="58.9" y1="781.2" x2="203" y2="781.2" stroke="#7a7a7a" stroke-width="1.2"/>
<text x="54" y="785.5" text-anchor="end" font-size="12">0</text>
<line x1="58.5" y1="750.42" x2="62.4" y2="750.42" stroke="#7a7a7a" stroke-width="1"/>
<text x="54" y="754.72" text-anchor="end" font-size="12">0.05</text>
<line x1="58.5" y1="719.64" x2="62.4" y2="719.64" stroke="#7a7a7a" stroke-width="1"/>
<text x="54" y="723.94" text-anchor="end" font-size="12">0.10</text>
<line x1="58.5" y1="688.86" x2="62.4" y2="688.86" stroke="#7a7a7a" stroke-width="1"/>
<text x="54" y="693.16" text-anchor="end" font-size="12">0.15</text>
<line x1="58.5" y1="658.08" x2="62.4" y2="658.08" stroke="#7a7a7a" stroke-width="1"/>
<text x="54" y="662.38" text-anchor="end" font-size="12">0.20</text>
<line x1="58.5" y1="627.3" x2="62.4" y2="627.3" stroke="#7a7a7a" stroke-width="1"/>
<text x="54" y="631.6" text-anchor="end" font-size="12">0.25</text>
<rect x="68.9" y="687.8" width="20" height="93.4" fill="#1210de"/>
<line x1="78.9" y1="687.8" x2="78.9" y2="680.4" stroke="#111" stroke-width="1.1"/>
<line x1="77.3" y1="680.4" x2="80.5" y2="680.4" stroke="#111" stroke-width="1.1"/>
<text transform="translate(84.9,792.4) rotate(-45)" text-anchor="end" font-size="12">NT</text>
<rect x="104.4" y="696.8" width="20" height="84.4" fill="#1210de"/>
<line x1="114.4" y1="696.8" x2="114.4" y2="687.4" stroke="#111" stroke-width="1.1"/>
<line x1="112.8" y1="687.4" x2="116" y2="687.4" stroke="#111" stroke-width="1.1"/>
<text transform="translate(120.4,792.4) rotate(-45)" text-anchor="end" font-size="12">+EIPA</text>
<rect x="140" y="656.2" width="20" height="125" fill="#ee2012"/>
<line x1="150" y1="656.2" x2="150" y2="648.9" stroke="#111" stroke-width="1.1"/>
<line x1="148.4" y1="648.9" x2="151.6" y2="648.9" stroke="#111" stroke-width="1.1"/>
<text transform="translate(156,792.4) rotate(-45)" text-anchor="end" font-size="12">NT</text>
<rect x="175.4" y="680.8" width="20" height="100.4" fill="#ee2012"/>
<line x1="185.4" y1="680.8" x2="185.4" y2="671.1" stroke="#111" stroke-width="1.1"/>
<line x1="183.8" y1="671.1" x2="187" y2="671.1" stroke="#111" stroke-width="1.1"/>
<text transform="translate(191.4,792.4) rotate(-45)" text-anchor="end" font-size="12">+EIPA</text>
<line x1="77.3" y1="634.2" x2="149" y2="634.2" stroke="#1a1a1a" stroke-width="1.2"/>
<polygon points="110.35,626.85 111.03,628.52 112.82,628.65 111.44,629.81 111.88,631.55 110.35,630.6 108.82,631.55 109.26,629.81 107.88,628.65 109.67,628.52" fill="#111"/>
<polygon points="116.65,626.85 117.33,628.52 119.12,628.65 117.74,629.81 118.18,631.55 116.65,630.6 115.12,631.55 115.56,629.81 114.18,628.65 115.97,628.52" fill="#111"/>
<line x1="151.2" y1="646.4" x2="186.7" y2="646.4" stroke="#1a1a1a" stroke-width="1.2"/>
<polygon points="168.6,639.05 169.28,640.72 171.07,640.85 169.69,642.01 170.13,643.75 168.6,642.8 167.07,643.75 167.51,642.01 166.13,640.85 167.92,640.72" fill="#111"/>
<line x1="80.4" y1="667.6" x2="115.8" y2="667.6" stroke="#1a1a1a" stroke-width="1.2"/>
<text x="97" y="664" text-anchor="middle" font-size="12">n.s.</text>
<text transform="translate(17,703.8) rotate(-90)" text-anchor="middle" font-size="12"><tspan font-style="italic">K</tspan><tspan dy="4.3" font-size="8.5" dx="-1">e</tspan><tspan dy="-9.7" font-size="8" dx="4.5">125</tspan><tspan dy="5.4">I-EGF (min</tspan><tspan dy="-5" font-size="8">−1</tspan><tspan dy="5">)</tspan></text>
<rect x="219.2" y="621.4" width="8.2" height="8.2" fill="#1210de"/>
<text x="232.2" y="629.7" text-anchor="start" font-size="12">CTR</text>
<rect x="219.2" y="640.2" width="8.2" height="8.2" fill="#ff0000"/>
<text x="232.2" y="648.5" text-anchor="start" font-size="12">RAB5A</text>
</svg></body></html>
